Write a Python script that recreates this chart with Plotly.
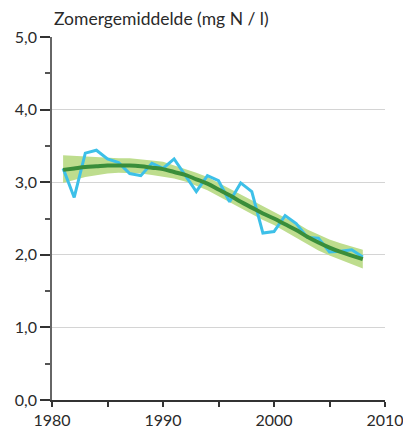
import plotly.graph_objects as go

years = list(range(1981, 2009))
measured = [3.19, 2.79, 3.40, 3.44, 3.32, 3.27, 3.12, 3.09, 3.26, 3.19,
            3.32, 3.10, 2.87, 3.09, 3.02, 2.73, 2.99, 2.87, 2.30, 2.32,
            2.54, 2.43, 2.24, 2.23, 2.04, 2.05, 2.07, 1.97]
trend = [3.17, 3.19, 3.21, 3.22, 3.23, 3.23, 3.23, 3.22, 3.20, 3.18,
         3.14, 3.10, 3.04, 2.98, 2.90, 2.82, 2.73, 2.65, 2.57, 2.50,
         2.42, 2.34, 2.25, 2.17, 2.10, 2.04, 1.99, 1.94]
upper = [3.37, 3.36, 3.35, 3.34, 3.34, 3.33, 3.33, 3.32, 3.30, 3.28,
         3.23, 3.19, 3.13, 3.07, 2.99, 2.91, 2.82, 2.74, 2.66, 2.59,
         2.51, 2.44, 2.35, 2.28, 2.21, 2.16, 2.11, 2.07]
lower = [2.99, 3.03, 3.07, 3.10, 3.12, 3.13, 3.13, 3.12, 3.10, 3.08,
         3.05, 3.01, 2.95, 2.89, 2.81, 2.73, 2.64, 2.56, 2.48, 2.41,
         2.33, 2.24, 2.15, 2.06, 1.99, 1.92, 1.87, 1.81]
y_ticks = [0, 1, 2, 3, 4, 5]
y_labels = ["0,0", "1,0", "2,0", "3,0", "4,0", "5,0"]
x_ticks = [1980, 1990, 2000, 2010]
x_labels = ["1980", "1990", "2000", "2010"]
title = "Zomergemiddelde (mg N / l)"

font = "Lato"
txt = "#2a2a2a"
fig = go.Figure()
fig.add_trace(go.Scatter(x=years + years[::-1], y=upper + lower[::-1],
                         fill="toself", fillcolor="#BEDD8E",
                         line=dict(width=0), mode="lines", hoverinfo="skip"))
fig.add_trace(go.Scatter(x=years, y=measured, mode="lines",
                         line=dict(color="#3DC0E8", width=3)))
fig.add_trace(go.Scatter(x=years, y=trend, mode="lines",
                         line=dict(color="#3A8E3A", width=4, shape="spline")))

fig.update_layout(
    width=403, height=437,
    margin=dict(l=52, r=18, t=37, b=37, autoexpand=False),
    paper_bgcolor="white", plot_bgcolor="white",
    showlegend=False,
    font=dict(family=font, size=16, color=txt),
)
fig.add_annotation(text=title, xref="paper", yref="paper", x=0, y=1,
                   xanchor="left", yanchor="bottom", yshift=6, showarrow=False,
                   font=dict(family=font, size=17.5, color=txt))
fig.update_xaxes(range=[1980, 2010], tickvals=x_ticks, ticktext=x_labels,
                 automargin=False, ticklabeloverflow="allow",
                 ticks="outside", ticklen=5, tickwidth=1.5, tickcolor="#333333",
                 showgrid=False, zeroline=False, showline=True,
                 linecolor="#333333", linewidth=1.5,
                 minor=dict(dtick=5, tick0=1980, ticks="outside", ticklen=5,
                            tickwidth=1.5, tickcolor="#333333", showgrid=False),
                 tickfont=dict(size=16, color=txt))
fig.update_yaxes(range=[0, 5], tickvals=y_ticks, ticktext=y_labels,
                 automargin=False,
                 ticks="outside", ticklen=10, tickwidth=1.5, tickcolor="#333333",
                 showgrid=True, gridcolor="#D4D4D4", gridwidth=1,
                 zeroline=False, showline=True, linecolor="#666666", linewidth=1.5,
                 minor=dict(dtick=0.5, tick0=0, ticks="outside", ticklen=5,
                            tickwidth=1.5, tickcolor="#555555", showgrid=False),
                 tickfont=dict(size=16, color=txt))

fig.write_html("out.html", config={"displayModeBar": False},
               post_script="document.body.style.margin='0';"
                           "document.body.style.overflow='hidden';")
